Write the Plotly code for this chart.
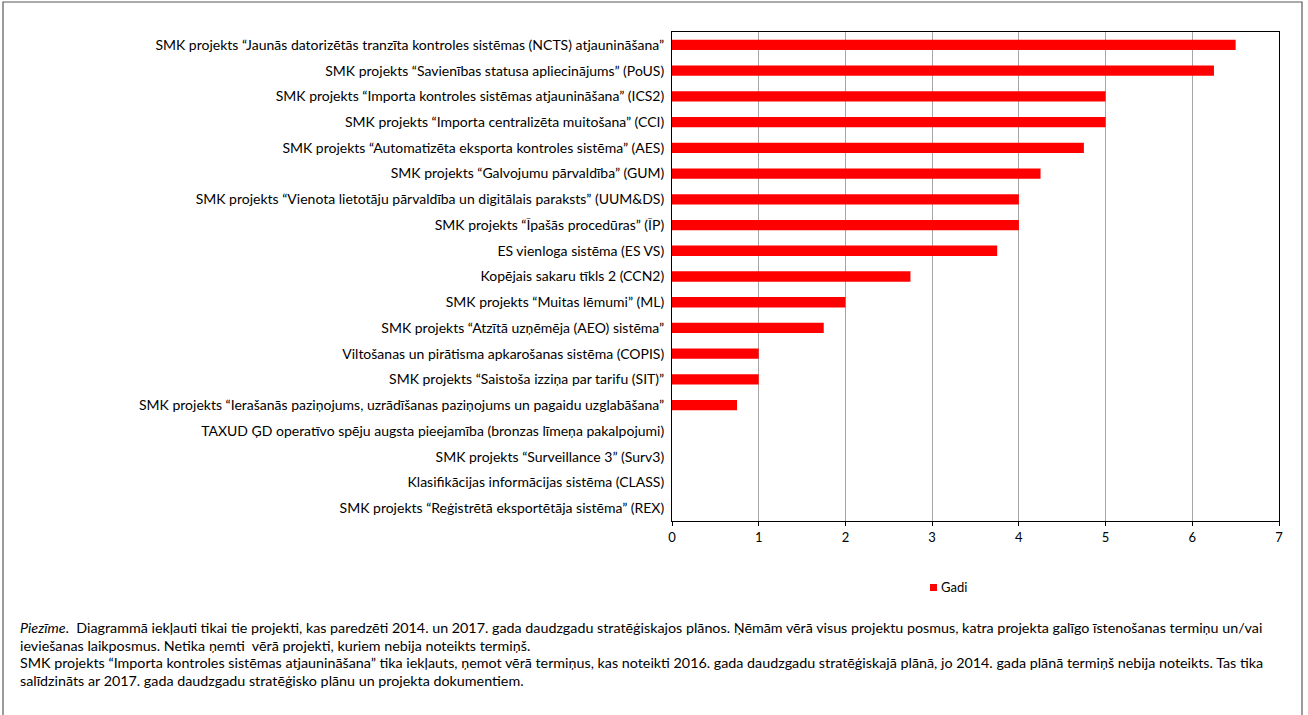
import plotly.graph_objects as go

categories = [
    "SMK projekts “Jaunās datorizētās tranzīta kontroles sistēmas (NCTS) atjaunināšana”",
    "SMK projekts “Savienības statusa apliecinājums” (PoUS)",
    "SMK projekts “Importa kontroles sistēmas atjaunināšana” (ICS2)",
    "SMK projekts “Importa centralizēta muitošana” (CCI)",
    "SMK projekts “Automatizēta eksporta kontroles sistēma” (AES)",
    "SMK projekts “Galvojumu pārvaldība” (GUM)",
    "SMK projekts “Vienota lietotāju pārvaldība un digitālais paraksts” (UUM&DS)",
    "SMK projekts “Īpašās procedūras” (ĪP)",
    "ES vienloga sistēma (ES VS)",
    "Kopējais sakaru tīkls 2 (CCN2)",
    "SMK projekts “Muitas lēmumi” (ML)",
    "SMK projekts “Atzītā uzņēmēja (AEO) sistēma”",
    "Viltošanas un pirātisma apkarošanas sistēma (COPIS)",
    "SMK projekts “Saistoša izziņa par tarifu (SIT)”",
    "SMK projekts “Ierašanās paziņojums, uzrādīšanas paziņojums un pagaidu uzglabāšana”",
    "TAXUD ĢD operatīvo spēju augsta pieejamība (bronzas līmeņa pakalpojumi)",
    "SMK projekts “Surveillance 3” (Surv3)",
    "Klasifikācijas informācijas sistēma (CLASS)",
    "SMK projekts “Reģistrētā eksportētāja sistēma” (REX)",
]
gadi = [6.5, 6.25, 5, 5, 4.75, 4.25, 4, 4, 3.75, 2.75, 2, 1.75, 1, 1, 0.75, 0, 0, 0, 0]
series_name = "Gadi"
x_ticks = [0, 1, 2, 3, 4, 5, 6, 7]

note_lines = [
    "<i>Piezīme</i>.  Diagrammā iekļauti tikai tie projekti, kas paredzēti 2014. un 2017. gada daudzgadu stratēģiskajos plānos. Ņēmām vērā visus projektu posmus, katra projekta galīgo īstenošanas termiņu un/vai",
    "ieviešanas laikposmus. Netika ņemti  vērā projekti, kuriem nebija noteikts termiņš.",
    "SMK projekts “Importa kontroles sistēmas atjaunināšana” tika iekļauts, ņemot vērā termiņus, kas noteikti 2016. gada daudzgadu stratēģiskajā plānā, jo 2014. gada plānā termiņš nebija noteikts. Tas tika",
    "salīdzināts ar 2017. gada daudzgadu stratēģisko plānu un projekta dokumentiem.",
]

W, H = 1308, 715
L, R, T, B = 672, 1279, 32, 521
FONT = "Lato, 'Open Sans', sans-serif"
RED = "#ff0000"

def px_x(x):
    return (x - L) / (R - L)

def px_y(y):
    return (B - y) / (B - T)

fig = go.Figure()
fig.add_trace(go.Bar(
    y=categories, x=gadi, orientation="h", name=series_name,
    marker=dict(color=RED, line=dict(width=0)), width=0.4,
    showlegend=False,
))

fig.update_layout(
    width=W, height=H,
    margin=dict(l=L, r=W - R, t=T, b=H - B, autoexpand=False),
    paper_bgcolor="white", plot_bgcolor="white",
    font=dict(family=FONT, size=14, color="#000000"),
    showlegend=False,
    xaxis=dict(
        range=[0, 7], tickvals=x_ticks, showgrid=True, gridcolor="#a6a6a6", gridwidth=1,
        showline=True, linecolor="#000000", linewidth=1, mirror=True,
        ticks="outside", ticklen=4, tickcolor="#000000", zeroline=False,
        tickfont=dict(size=13),
    ),
    yaxis=dict(
        type="category", autorange="reversed", showgrid=False,
        showline=True, linecolor="#000000", linewidth=1, mirror=True,
        ticks="", ticklabelstandoff=4, tickfont=dict(size=14),
    ),
)

# legend entry (series name): red square + black text
fig.add_shape(type="rect", xref="paper", yref="paper",
              x0=px_x(930), x1=px_x(937), y0=px_y(591), y1=px_y(584),
              line=dict(width=0), fillcolor=RED)
fig.add_annotation(
    text=series_name,
    xref="paper", yref="paper", x=px_x(939), y=px_y(587),
    xanchor="left", yanchor="middle", showarrow=False,
    font=dict(size=13, family=FONT, color="#000000"),
)

line_ys = [627, 645, 662, 680]
for txt, yy in zip(note_lines, line_ys):
    fig.add_annotation(
        text=txt, xref="paper", yref="paper", x=px_x(18), y=px_y(yy),
        xanchor="left", yanchor="middle", showarrow=False, align="left",
        font=dict(size=14.3, family=FONT),
    )

# outer frame
fig.add_shape(type="rect", xref="paper", yref="paper",
              x0=px_x(3), x1=px_x(1302), y0=px_y(740), y1=px_y(2),
              line=dict(color="#595959", width=1.2), fillcolor="rgba(0,0,0,0)", layer="above")

fig.write_html("out.html", config={"displayModeBar": False},
               post_script="document.body.style.margin='0';document.body.style.padding='0';")
